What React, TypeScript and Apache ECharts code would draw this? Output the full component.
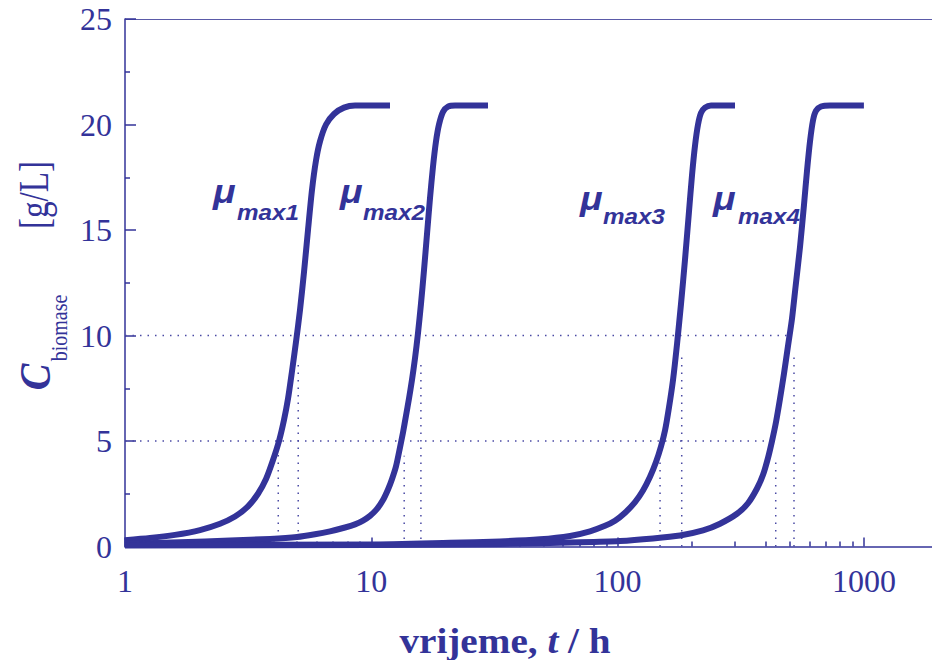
import React, { useEffect, useRef } from "react";
import * as echarts from "echarts";

// ---- data ----
// [t (h), C biomase (g/L)]
const curve1: number[][] = [
  [1, 0.3], [1.263, 0.4], [1.596, 0.55], [2.016, 0.78], [2.431, 1.08], [2.797, 1.42],
  [3.158, 1.9], [3.467, 2.5], [3.737, 3.2], [3.99, 4.1], [4.22, 5.0], [4.422, 6.0],
  [4.59, 7.0], [4.764, 8.3], [4.946, 9.7], [5.134, 11.2], [5.33, 13.0], [5.534, 15.0],
  [5.744, 16.9], [5.964, 18.3], [6.191, 19.2], [6.549, 20.0], [7.058, 20.5], [7.748, 20.8],
  [8.587, 20.9], [11.91, 20.9],
];
const curve2: number[][] = [
  [1, 0.13], [1.672, 0.2], [2.669, 0.28], [3.879, 0.36], [4.992, 0.45], [5.906, 0.58],
  [6.797, 0.72], [7.82, 0.9], [8.587, 1.05], [9.254, 1.23], [9.879, 1.45], [10.55, 1.78],
  [11.155, 2.2], [11.69, 2.7], [12.14, 3.2], [12.6, 3.8], [13.08, 4.7], [13.45, 5.4],
  [13.83, 6.2], [14.22, 7.0], [14.63, 7.9], [15.04, 8.9], [15.47, 10.1], [15.91, 11.5],
  [16.37, 13.1], [16.83, 14.8], [17.31, 16.5], [17.8, 18.0], [18.31, 19.2], [18.83, 20.0],
  [19.55, 20.6], [20.48, 20.85], [21.87, 20.9], [29.77, 20.9],
];
const curve3: number[][] = [
  [1, 0.07], [10, 0.1], [20.87, 0.18], [33.31, 0.24], [48.41, 0.34], [64.1, 0.5],
  [77.27, 0.72], [88.89, 0.98], [97.59, 1.22], [107.2, 1.6], [117.7, 2.1], [126.8, 2.65],
  [135.4, 3.3], [143.2, 4.0], [150.1, 4.75], [155.8, 5.5], [161.7, 6.6], [167.9, 7.9],
  [174.3, 9.6], [180.9, 11.5], [187.8, 13.6], [195.0, 15.9], [200.5, 17.6], [206.2, 19.0],
  [212.1, 20.0], [218.1, 20.55], [226.4, 20.8], [239.4, 20.9], [299.7, 20.9],
];
const curve4: number[][] = [
  [1, 0.05], [10, 0.07], [33.3, 0.12], [70.37, 0.2], [102.3, 0.26], [139.2, 0.38],
  [179.2, 0.52], [222.2, 0.76], [260.5, 1.08], [305.3, 1.55], [338.3, 2.05], [368.1, 2.75],
  [389.4, 3.4], [408.0, 4.2], [423.6, 5.0], [439.7, 5.9], [456.4, 7.0], [473.8, 8.2],
  [491.8, 9.5], [510.6, 10.8], [527.7, 12.3], [550.3, 14.2], [571.2, 16.2], [587.4, 17.8],
  [604.2, 19.2], [621.5, 20.2], [639, 20.65], [669.6, 20.85], [728.4, 20.9], [1000, 20.9],
];
const curves = [curve1, curve2, curve3, curve4];
const curveSubs = ["max1", "max2", "max3", "max4"];

// dotted guide lines
const t5Lines = [4.19, 13.6, 148.7, 438.5];
const t5Tops = [4.4, 4.3, 4.1, 4.1];
const t10Lines = [5.05, 15.9, 182.1, 520.2];
const t10Tops = [8.85, 8.8, 9.0, 9.0];
const hLevels = [5, 10];
const hEnds = [415.6, 504];

// axes
const xMajorTicks = [1, 10, 100, 1000];
const xMinorTicks = [2, 3, 4, 5, 6, 7, 8, 9, 20, 30, 40, 50, 60, 70, 80, 90, 200, 300, 400, 500, 600, 700, 800, 900];
const xMin = 1;
const xMax = 1890;
const yMin = 0;
const yMax = 25;
const yInterval = 5;

const BLUE = "#333399";
const DOT = "#4a4aa4";
const SERIF = '"Liberation Serif", "DejaVu Serif", serif';
const SANS = '"Liberation Sans", Arial, sans-serif';

export default function App() {
  const ref = useRef<HTMLDivElement>(null);

  useEffect(() => {
    if (!ref.current) return;
    const chart = echarts.init(ref.current, undefined, { renderer: "svg" });

    const dotted = {
      color: DOT,
      width: 1.5,
      type: [1.5, 6] as any,
      cap: "butt" as const,
    };

    const series: any[] = [];
    t5Lines.forEach((t, i) => {
      series.push({
        type: "line", xAxisIndex: 0, symbol: "none", silent: true, z: 1,
        lineStyle: dotted, data: [[t, 0], [t, t5Tops[i]]],
      });
    });
    t10Lines.forEach((t, i) => {
      series.push({
        type: "line", xAxisIndex: 0, symbol: "none", silent: true, z: 1,
        lineStyle: dotted, data: [[t, 0], [t, t10Tops[i]]],
      });
    });
    hLevels.forEach((lv, i) => {
      series.push({
        type: "line", xAxisIndex: 0, symbol: "none", silent: true, z: 1,
        lineStyle: dotted, data: [[xMin, lv], [hEnds[i], lv]],
      });
    });
    curves.forEach((c, i) => {
      series.push({
        type: "line", name: "μ" + curveSubs[i], xAxisIndex: 0, symbol: "none",
        smooth: 0.25, silent: true, z: 3,
        lineStyle: { color: BLUE, width: 6, join: "round", cap: "butt" }, data: c,
      });
    });

    const muPos = [
      { mx: 213, my: 192, sx: 237, sy: 212 },
      { mx: 340, my: 192, sx: 363, sy: 212 },
      { mx: 580, my: 199, sx: 603, sy: 216 },
      { mx: 713, my: 199, sx: 738, sy: 216 },
    ];
    const graphics: any[] = [];
    curveSubs.forEach((s, i) => {
      const p = muPos[i];
      graphics.push({
        type: "text", x: p.mx, y: p.my, scaleX: 1.1, silent: true,
        style: {
          text: "μ", fill: BLUE, font: `italic bold 34px ${SANS}`,
          textAlign: "left", textVerticalAlign: "middle", align: "left", verticalAlign: "middle",
        },
      });
      graphics.push({
        type: "text", x: p.sx, y: p.sy, scaleX: 1.1, silent: true,
        style: {
          text: s, fill: BLUE, font: `italic bold 22px ${SANS}`,
          textAlign: "left", textVerticalAlign: "middle", align: "left", verticalAlign: "middle",
        },
      });
    });
    // y axis title
    graphics.push({
      type: "text", x: 35, y: 377, rotation: Math.PI / 2, scaleY: 1.12, silent: true,
      style: {
        text: "C", fill: BLUE, font: `italic bold 40px ${SERIF}`,
        textAlign: "center", textVerticalAlign: "middle", align: "center", verticalAlign: "middle",
      },
    });
    graphics.push({
      type: "text", x: 59, y: 328, rotation: Math.PI / 2, scaleY: 1.2, silent: true,
      style: {
        text: "biomase", fill: BLUE, font: `20px ${SERIF}`,
        textAlign: "center", textVerticalAlign: "middle", align: "center", verticalAlign: "middle",
      },
    });
    graphics.push({
      type: "text", x: 34, y: 195, rotation: Math.PI / 2, scaleY: 1.25, silent: true,
      style: {
        text: "[g/L]", fill: BLUE, font: `33px ${SERIF}`,
        textAlign: "center", textVerticalAlign: "middle", align: "center", verticalAlign: "middle",
      },
    });
    // x axis title
    graphics.push({
      type: "text", x: 505, y: 641, scaleX: 1.12, silent: true,
      style: {
        text: "{a|vrijeme, }{b|t}{a| / h}",
        fill: BLUE,
        textAlign: "center", textVerticalAlign: "middle", align: "center", verticalAlign: "middle",
        rich: {
          a: { fill: BLUE, fontFamily: SERIF, fontWeight: "bold", fontSize: 35 },
          b: { fill: BLUE, fontFamily: SERIF, fontWeight: "bold", fontStyle: "italic", fontSize: 35 },
        },
      },
    });

    const tickLabel = { color: BLUE, fontFamily: SERIF, fontSize: 32 };

    chart.setOption({
      animation: false,
      backgroundColor: "#ffffff",
      grid: { left: 125, top: 19, right: 0, bottom: 113.5, containLabel: false },
      xAxis: [
        {
          type: "log", logBase: 10, min: xMin, max: xMax, position: "bottom",
          axisLine: { show: true, onZero: false, lineStyle: { color: BLUE, width: 1.5 } },
          axisTick: { show: true, inside: true, length: 9, customValues: xMajorTicks, lineStyle: { color: BLUE, width: 1.5 } },
          splitLine: { show: false },
          axisLabel: {
            ...tickLabel, margin: 18, customValues: xMajorTicks,
            formatter: (v: number) => String(Math.round(v)),
          },
        },
        {
          type: "log", logBase: 10, min: xMin, max: xMax, position: "bottom",
          axisLine: { show: false },
          axisTick: { show: true, inside: true, length: 5, customValues: xMinorTicks, lineStyle: { color: BLUE, width: 1.5 } },
          splitLine: { show: false },
          axisLabel: { show: false },
        },
        {
          type: "value", min: 0, max: 1, position: "top",
          axisLine: { show: true, onZero: false, lineStyle: { color: "#5a5aa8", width: 1.2 } },
          axisTick: { show: false }, axisLabel: { show: false }, splitLine: { show: false },
        },
      ],
      yAxis: {
        type: "value", min: yMin, max: yMax, interval: yInterval,
        axisLine: { show: true, onZero: false, lineStyle: { color: BLUE, width: 1.5 } },
        axisTick: { show: true, inside: true, length: 11, lineStyle: { color: BLUE, width: 1.5 } },
        minorTick: { show: true, splitNumber: 2, length: 5, lineStyle: { color: BLUE, width: 1.5 } },
        splitLine: { show: false },
        axisLabel: { ...tickLabel, margin: 13 },
      },
      graphic: graphics,
      series,
    });

    return () => chart.dispose();
  }, []);

  return (
    <div
      ref={ref}
      style={{ position: "fixed", left: 0, top: 0, width: 932, height: 660, background: "#fff" }}
    />
  );
}
